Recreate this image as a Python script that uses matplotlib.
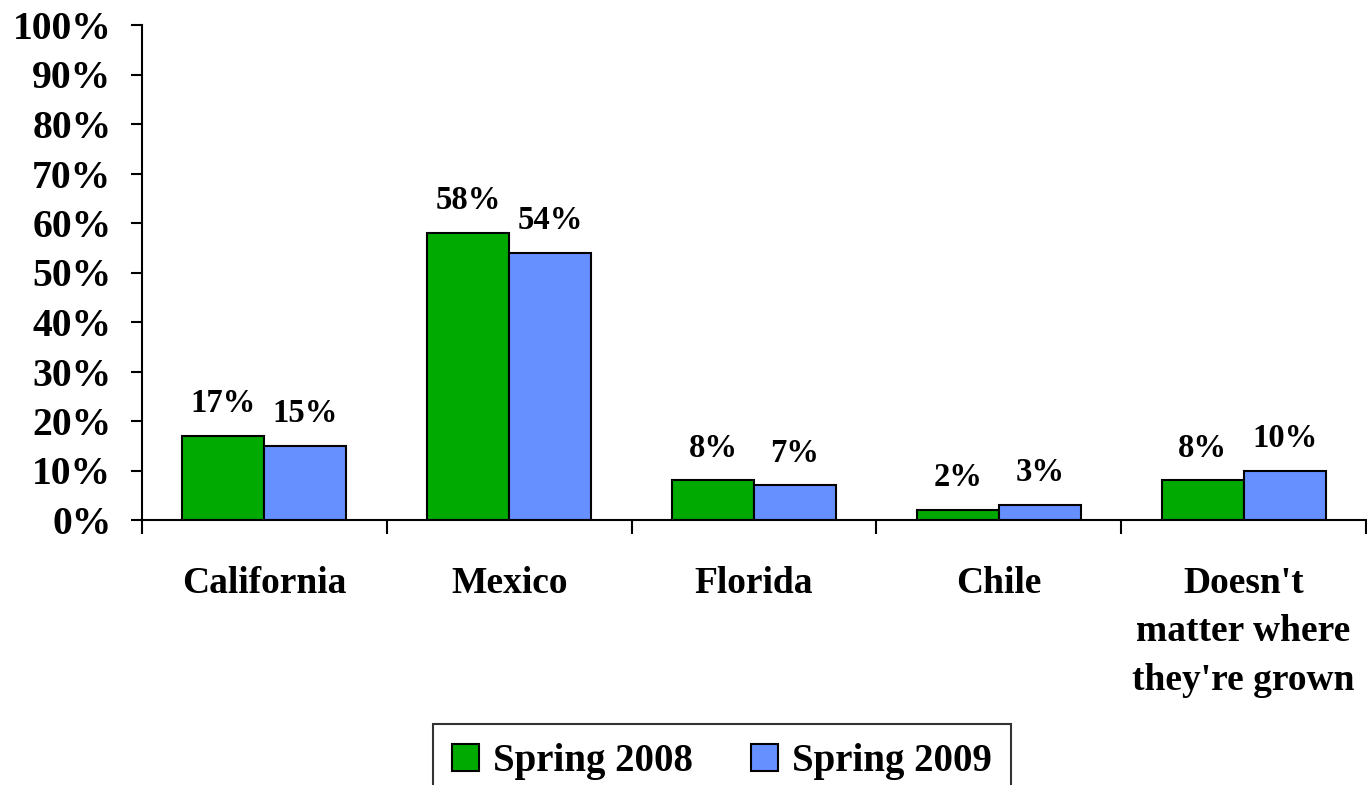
import numpy as np
import matplotlib
matplotlib.use("Agg")
import matplotlib.pyplot as plt
from matplotlib.ticker import FixedLocator

categories = ["California", "Mexico", "Florida", "Chile",
              "Doesn't\nmatter where\nthey're grown"]
spring_2008 = [17, 58, 8, 2, 8]
spring_2009 = [15, 54, 7, 3, 10]
series_names = ["Spring 2008", "Spring 2009"]
yticks = list(range(0, 101, 10))

plt.rcParams['font.family'] = ['Liberation Serif', 'DejaVu Serif']
plt.rcParams['font.weight'] = 'bold'

fig = plt.figure(figsize=(13.67, 7.85), dpi=100)
ax = fig.add_axes([142 / 1367, 265 / 785, 1224 / 1367, 495 / 785])

x = np.arange(len(categories))
w = 0.335
b1 = ax.bar(x - w / 2, spring_2008, w, color='#00aa00', edgecolor='black', linewidth=1.5,
            label=series_names[0])
b2 = ax.bar(x + w / 2, spring_2009, w, color='#6690ff', edgecolor='black', linewidth=1.5,
            label=series_names[1])

for bars, vals in [(b1, spring_2008), (b2, spring_2009)]:
    for r, v in zip(bars, vals):
        ax.annotate(f"{v}%", (r.get_x() + r.get_width() / 2, r.get_height()),
                    xytext=(0, 12), textcoords='offset points', ha='center', va='bottom',
                    fontsize=23.5, fontweight='bold')

ax.set_xlim(-0.5, len(categories) - 0.5)
ax.set_ylim(0, 100)
ax.set_yticks(yticks)
ax.set_yticklabels([f"{t}%" for t in yticks], fontsize=28.5, fontweight='bold')
ax.tick_params(axis='y', length=8, width=1.5, pad=14)

ax.set_xticks(x)
ax.set_xticklabels(categories, fontsize=27, fontweight='bold', linespacing=1.5)
ax.xaxis.set_minor_locator(FixedLocator(np.arange(-0.5, len(categories), 1.0)))
ax.tick_params(axis='x', which='major', length=0, pad=33)
ax.tick_params(axis='x', which='minor', length=10, width=1.5)

for s in ['top', 'right']:
    ax.spines[s].set_visible(False)
for s in ['left', 'bottom']:
    ax.spines[s].set_linewidth(1.5)

leg = fig.legend(loc='upper center', bbox_to_anchor=(722 / 1367, 1 - 724 / 785), ncol=2,
                 prop={'size': 28, 'weight': 'bold'}, frameon=True, fancybox=False,
                 edgecolor='black', handlelength=0.7, handleheight=0.7,
                 handletextpad=0.35, columnspacing=1.5, borderpad=0.5,
                 borderaxespad=0)
leg.get_frame().set_linewidth(1.5)

fig.savefig("out.png", dpi=100)
